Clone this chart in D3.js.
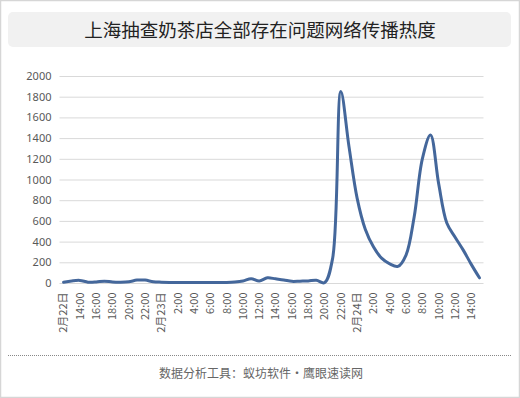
<!DOCTYPE html>
<html><head><meta charset="utf-8">
<script src="https://cdn.jsdelivr.net/npm/d3@7"></script>
<style>
html,body{margin:0;padding:0;background:#fff;}
svg{display:block;font-family:"Noto Sans CJK SC","Noto Sans",sans-serif;}
</style></head>
<body>
<svg id="chart" width="520" height="398"></svg>
<script>
const title = "上海抽查奶茶店全部存在问题网络传播热度";
const footer = "数据分析工具：蚁坊软件・鹰眼速读网";
const categories = [
  "2月22日","13:00","14:00","15:00","16:00","17:00","18:00","19:00","20:00","21:00","22:00","23:00",
  "2月23日","1:00","2:00","3:00","4:00","5:00","6:00","7:00","8:00","9:00","10:00","11:00",
  "12:00","13:00","14:00","15:00","16:00","17:00","18:00","19:00","20:00","21:00","22:00","23:00",
  "2月24日","1:00","2:00","3:00","4:00","5:00","6:00","7:00","8:00","9:00","10:00","11:00",
  "12:00","13:00","14:00","15:00"
];
const values = [
  8,20,25,8,10,18,10,8,12,28,28,12,
  8,6,5,5,5,5,5,6,6,10,20,42,
  20,50,40,30,16,18,20,26,3,240,1850,1320,
  820,520,350,240,185,160,270,640,1200,1430,960,580,
  445,320,180,50
];
const yTicks = [0,200,400,600,800,1000,1200,1400,1600,1800,2000];

const svg = d3.select("#chart");
// outer border
svg.append("rect").attr("x",0.5).attr("y",0.5).attr("width",519).attr("height",397)
  .attr("fill","#fff").attr("stroke","#d6d6d6").attr("stroke-width",1.5);
// title box
svg.append("rect").attr("x",8).attr("y",12).attr("width",503).attr("height",35).attr("rx",5)
  .attr("fill","#f1f1f1");
svg.append("text").attr("x",260).attr("y",30).attr("dy","0.36em").attr("text-anchor","middle")
  .attr("font-size",18.5).attr("fill","#222").text(title);

const plot = {left:59.5, right:483.5, top:76, bottom:283};
const x = d3.scaleBand().domain(d3.range(categories.length)).range([plot.left, plot.right]).padding(0);
const y = d3.scaleLinear().domain([0,2000]).range([plot.bottom, plot.top]);

// gridlines
const yAxis = d3.axisLeft(y).tickValues(yTicks).tickFormat(d3.format("d"))
  .tickSize(-(plot.right-plot.left)).tickPadding(8);
const gy = svg.append("g").attr("transform",`translate(${plot.left},0)`).call(yAxis);
gy.select(".domain").remove();
gy.selectAll(".tick line").attr("stroke","#d9d9d9").attr("stroke-width",1);
gy.selectAll(".tick text").attr("font-size",11).attr("fill","#595959").attr("font-family",'"Noto Sans","Noto Sans CJK SC",sans-serif');

// x labels
const xAxis = d3.axisBottom(x).tickValues(d3.range(0,categories.length,2)).tickFormat(i=>categories[i]).tickSize(0).tickPadding(0);
const gx = svg.append("g").attr("transform",`translate(0,${plot.bottom})`).call(xAxis);
gx.select(".domain").remove();
gx.selectAll(".tick text")
  .attr("transform","translate(0,9.5) rotate(-90)")
  .attr("text-anchor","end").attr("x",0).attr("y",0).attr("dy","0.35em")
  .attr("font-size",11).attr("fill","#595959").attr("font-family",'"Noto Sans CJK SC","Noto Sans",sans-serif');

// line
const line = d3.line()
  .x((d,i)=>x(i)+x.bandwidth()/2)
  .y(d=>y(d))
  .curve(d3.curveCatmullRom.alpha(0.5));
svg.append("path").datum(values).attr("d",line)
  .attr("fill","none").attr("stroke","#44679b").attr("stroke-width",3)
  .attr("stroke-linejoin","round").attr("stroke-linecap","round");

// footer
svg.append("line").attr("x1",8).attr("x2",511).attr("y1",355.5).attr("y2",355.5)
  .attr("stroke","#888").attr("stroke-width",1).attr("stroke-dasharray","1,1");
svg.append("text").attr("x",261).attr("y",373.5).attr("dy","0.36em").attr("text-anchor","middle")
  .attr("font-size",12).attr("fill","#666").text(footer);
</script>
</body></html>
